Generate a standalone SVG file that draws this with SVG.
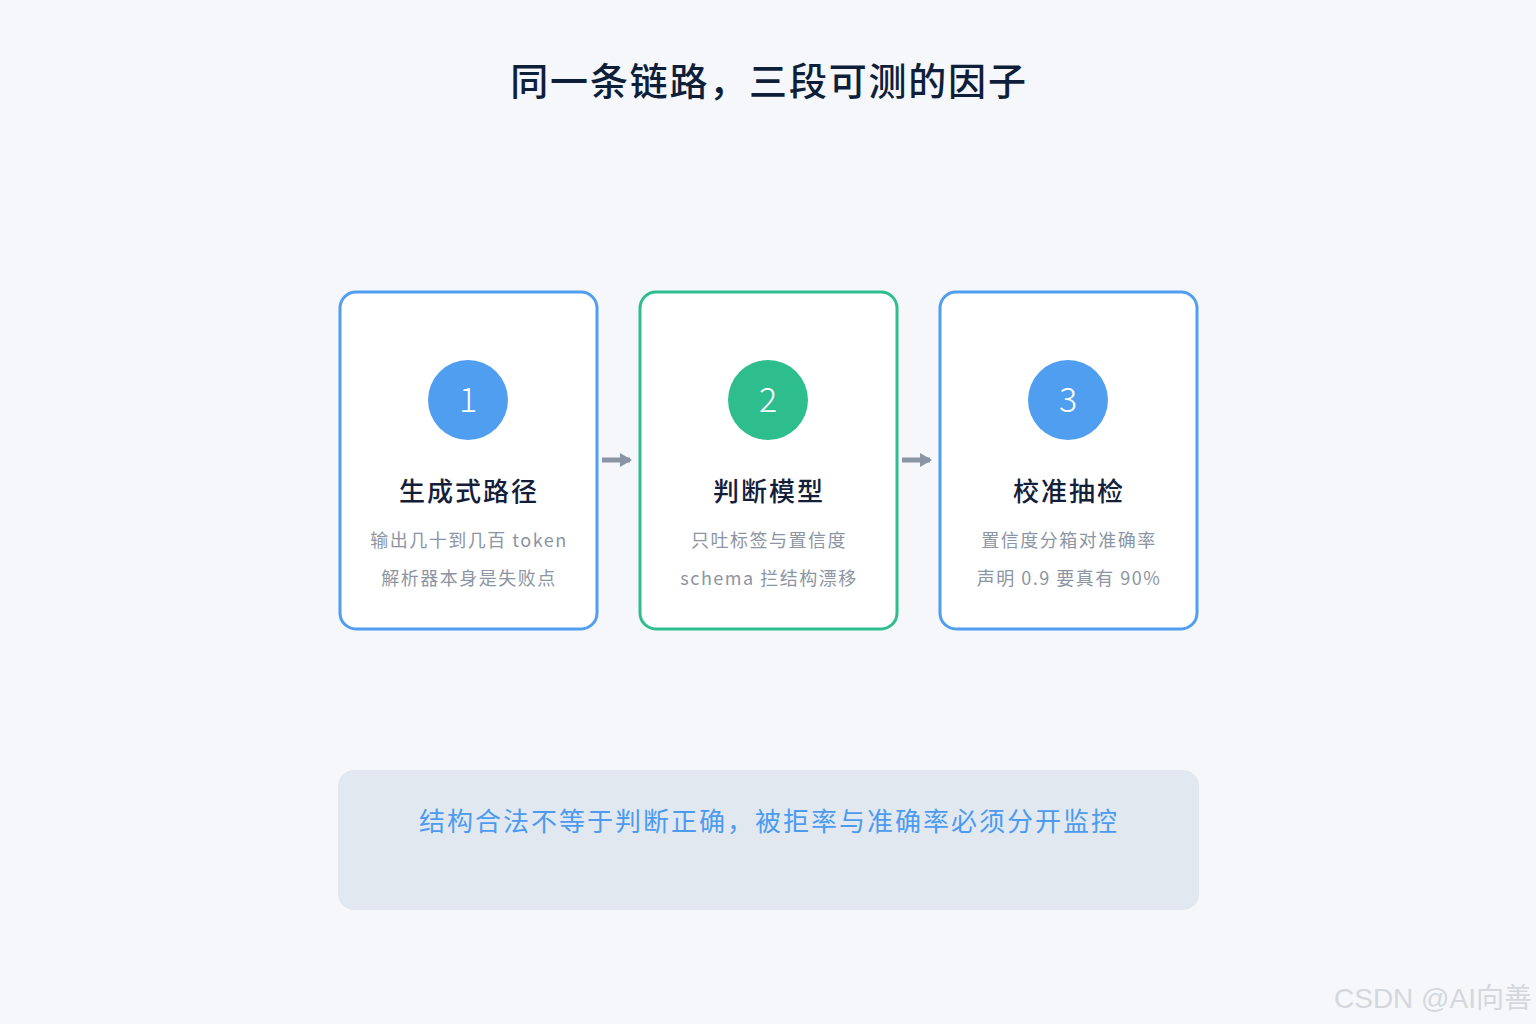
<svg xmlns="http://www.w3.org/2000/svg" width="1536" height="1024" viewBox="0 0 1536 1024">
<style>
text{font-family:"Noto Sans CJK SC","Noto Sans",sans-serif}
.card{fill:#ffffff;stroke-width:3}
.blue{stroke:#4f9ef0}
.green{stroke:#2ebd8c}
.num{fill:#ffffff;font-size:34px;text-anchor:middle;font-weight:300}
.ttl{fill:#14203a;font-size:26px;text-anchor:middle;font-weight:500;letter-spacing:2px}
.sub{fill:#8b95a3;font-size:18px;text-anchor:middle;letter-spacing:1.5px}
.conn{stroke:#8a94a4;stroke-width:5;fill:none}
</style>
<defs>
<marker id="ah" markerWidth="4" markerHeight="4" refX="2" refY="2" orient="auto" markerUnits="strokeWidth">
<path d="M0,0.6 L2.4,2 L0,3.4 Z" fill="#8a94a4"/>
</marker>
</defs>
<rect width="1536" height="1024" fill="#f5f7fa"/>
<text x="769" y="95" style="fill:#0f1f3a;font-size:38px;text-anchor:middle;font-weight:500;letter-spacing:1.8px">同一条链路，三段可测的因子</text>
<g id="connectors">
<line class="conn" x1="602" y1="460" x2="630" y2="460" marker-end="url(#ah)"/>
<line class="conn" x1="902" y1="460" x2="930" y2="460" marker-end="url(#ah)"/>
</g>
<g id="node1">
<rect class="card blue" x="340" y="292" width="257" height="337" rx="16"/>
<circle cx="468" cy="400" r="40" fill="#4f9ef0"/>
<text class="num" x="468" y="412">1</text>
<text class="ttl" x="469" y="501">生成式路径</text>
<text class="sub" x="469" y="547">输出几十到几百 token</text>
<text class="sub" x="469" y="585">解析器本身是失败点</text>
</g>
<g id="node2">
<rect class="card green" x="640" y="292" width="257" height="337" rx="16"/>
<circle cx="768" cy="400" r="40" fill="#2ebd8c"/>
<text class="num" x="768" y="412">2</text>
<text class="ttl" x="769" y="501">判断模型</text>
<text class="sub" x="769" y="547">只吐标签与置信度</text>
<text class="sub" x="769" y="585">schema 拦结构漂移</text>
</g>
<g id="node3">
<rect class="card blue" x="940" y="292" width="257" height="337" rx="16"/>
<circle cx="1068" cy="400" r="40" fill="#4f9ef0"/>
<text class="num" x="1068" y="412">3</text>
<text class="ttl" x="1069" y="501">校准抽检</text>
<text class="sub" x="1069" y="547">置信度分箱对准确率</text>
<text class="sub" x="1069" y="585">声明 0.9 要真有 90%</text>
</g>
<g id="note">
<rect x="338" y="770" width="861" height="140" rx="16" fill="#e2e8ef"/>
<text x="769" y="831" style="fill:#4c9bef;font-size:26px;text-anchor:middle;letter-spacing:2px">结构合法不等于判断正确，被拒率与准确率必须分开监控</text>
</g>
<text x="1532" y="1008" style="fill:#d4d7dc;font-size:28px;text-anchor:end;font-family:'Liberation Sans','Noto Sans CJK SC',sans-serif">CSDN @AI向善</text>
</svg>
